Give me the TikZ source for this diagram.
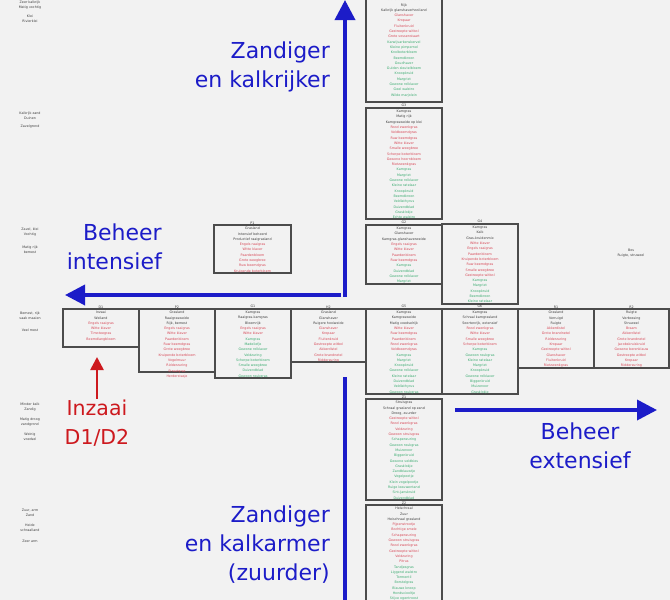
\documentclass[tikz,border=0pt]{standalone}
\usepackage{fontspec}
\setmainfont{DejaVu Sans}
\usetikzlibrary{arrows.meta}
\definecolor{bgc}{RGB}{242,242,242}
\definecolor{bluec}{RGB}{28,28,200}
\definecolor{redc}{RGB}{205,25,30}
\definecolor{tred}{RGB}{215,70,85}
\definecolor{tgrn}{RGB}{55,170,110}
\definecolor{tblk}{RGB}{60,60,60}
\newcommand{\cBlk}[1]{\textcolor{tblk}{#1}}
\newcommand{\cRed}[1]{\textcolor{tred}{#1}}
\newcommand{\cGrn}[1]{\textcolor{tgrn}{#1}}
\tikzset{
  boxline/.style={draw=black!70, line width=1.3pt},
  tinyt/.style={font=\fontsize{3.3}{5.3}\selectfont, inner sep=0pt, text=tblk, align=center},
  bigarrow/.style={draw=bluec, line width=3.6pt, -{Triangle[length=20pt,width=20pt]}},
  bigline/.style={draw=bluec, line width=3.6pt},
  redarrow/.style={draw=redc, line width=2.6pt, -{Triangle[length=13pt,width=13pt]}},
  bluelabel/.style={text=bluec, font=\fontsize{22}{29}\selectfont, inner sep=0pt},
  redlabel/.style={text=redc, font=\fontsize{20.5}{29}\selectfont, inner sep=0pt, align=center},
}
\newcommand{\vegbox}[7]{%
  \draw[boxline] (#2,#3) rectangle (#4,#5);
  \node[tinyt, anchor=south] (#1h) at ({(#2+#4)/2},{#3-0.8}) {#6};
  \node[tinyt, anchor=north] (#1) at ({(#2+#4)/2},{#3+2}) {#7};
}
\begin{document}
\begin{tikzpicture}[x=1pt,y=-1pt]
\useasboundingbox (0,0) rectangle (670,600);
\fill[bgc] (0,0) rectangle (670,600);
\clip (0,0) rectangle (670,600);

% ---- left column labels
\node[tinyt] (l1) at (30,5) {Zeer kalkrijk\\Matig vochtig};
\node[tinyt] (l2) at (30,19) {Klei\\Rivierklei};
\node[tinyt] (l3) at (30,116) {Kalkrijk zand\\Duinen};
\node[tinyt] (l4) at (30,127) {Zavelgrond};
\node[tinyt] (l5) at (30,232) {Zavel, klei\\Vochtig};
\node[tinyt] (l6) at (30,250) {Matig rijk\\bemest};
\node[tinyt] (l7) at (30,316) {Bemest, rijk\\vaak maaien};
\node[tinyt] (l8) at (30,330) {Veel mest};
\node[tinyt] (l9) at (30,407) {Minder kalk\\Zandig};
\node[tinyt] (l10) at (30,422) {Matig droog\\zandgrond};
\node[tinyt] (l11) at (30,437) {Weinig\\voedsel};
\node[tinyt] (l12) at (30,513) {Zuur, arm\\Zand};
\node[tinyt] (l13) at (30,528) {Heide\\schraalland};
\node[tinyt] (l14) at (30,541) {Zeer arm};

% ---- isolated right text
\node[tinyt] (rest) at (631,253) {Bos\\Ruigte, struweel};

% ---- boxes
\vegbox{A}{366}{-4}{442}{102}{H1}{\cBlk{Glanshaverhooiland}\\\cBlk{Rijk}\\\cBlk{Kalkrijk glanshaverhooiland}\\
\cRed{Glanshaver}\\\cRed{Kropaar}\\\cRed{Fluitenkruid}\\\cRed{Gestreepte witbol}\\\cRed{Grote vossenstaart}\\
\cGrn{Karwijvarkenskervel}\\\cGrn{Kleine pimpernel}\\\cGrn{Knolboterbloem}\\\cGrn{Beemdkroon}\\\cGrn{Goudhaver}\\\cGrn{Gulden sleutelbloem}\\\cGrn{Knoopkruid}\\\cGrn{Margriet}\\\cGrn{Gewone rolklaver}\\\cGrn{Geel walstro}\\\cGrn{Wilde marjolein}}

\vegbox{B}{366}{108}{442}{219}{G3}{\cBlk{Kamgras}\\\cBlk{Matig rijk}\\\cBlk{Kamgrasweide op klei}\\
\cRed{Rood zwenkgras}\\\cRed{Veldbeemdgras}\\\cRed{Ruw beemdgras}\\\cRed{Witte klaver}\\\cRed{Smalle weegbree}\\\cRed{Scherpe boterbloem}\\\cRed{Gewone hoornbloem}\\\cRed{Rietzwenkgras}\\
\cGrn{Kamgras}\\\cGrn{Margriet}\\\cGrn{Gewone rolklaver}\\\cGrn{Kleine ratelaar}\\\cGrn{Knoopkruid}\\\cGrn{Beemdkroon}\\\cGrn{Veldlathyrus}\\\cGrn{Duizendblad}\\\cGrn{Grasklokje}\\\cGrn{Echte walstro}}

\vegbox{C}{366}{225}{442}{284}{G2}{\cBlk{Kamgras}\\\cBlk{Glanshaver}\\\cBlk{Kamgras-glanshaverweide}\\
\cRed{Engels raaigras}\\\cRed{Witte klaver}\\\cRed{Paardenbloem}\\\cRed{Ruw beemdgras}\\
\cGrn{Kamgras}\\\cGrn{Duizendblad}\\\cGrn{Gewone rolklaver}\\\cGrn{Margriet}}

\vegbox{D}{442}{224}{518}{304}{G4}{\cBlk{Kamgras}\\\cBlk{Kalk}\\\cBlk{Gras-kruidenmix}\\
\cRed{Witte klaver}\\\cRed{Engels raaigras}\\\cRed{Paardenbloem}\\\cRed{Kruipende boterbloem}\\\cRed{Ruw beemdgras}\\\cRed{Smalle weegbree}\\\cRed{Gestreepte witbol}\\
\cGrn{Kamgras}\\\cGrn{Margriet}\\\cGrn{Knoopkruid}\\\cGrn{Beemdkroon}\\\cGrn{Kleine ratelaar}}

\vegbox{E}{214}{225}{291}{273}{P1}{\cBlk{Grasland}\\\cBlk{Intensief beheerd}\\\cBlk{Productief raaigrasland}\\
\cRed{Engels raaigras}\\\cRed{Witte klaver}\\\cRed{Paardenbloem}\\\cRed{Grote weegbree}\\\cRed{Ruw beemdgras}\\\cRed{Kruipende boterbloem}}

\vegbox{F}{63}{309}{139}{347}{D1}{\cBlk{Inzaai}\\\cBlk{Weiland}\\
\cRed{Engels raaigras}\\\cRed{Witte klaver}\\\cRed{Timoteegras}\\\cRed{Beemdlangbloem}}

\vegbox{G}{139}{309}{215}{372}{P2}{\cBlk{Grasland}\\\cBlk{Raaigrasweide}\\\cBlk{Rijk, bemest}\\
\cRed{Engels raaigras}\\\cRed{Witte klaver}\\\cRed{Paardenbloem}\\\cRed{Ruw beemdgras}\\\cRed{Grote weegbree}\\\cRed{Kruipende boterbloem}\\\cRed{Vogelmuur}\\\cRed{Ridderzuring}\\\cRed{Straatgras}\\\cRed{Herderstasje}}

\vegbox{H}{215}{309}{291}{378}{G1}{\cBlk{Kamgras}\\\cBlk{Raaigras-kamgras}\\\cBlk{Bloemrijk}\\
\cRed{Engels raaigras}\\\cRed{Witte klaver}\\
\cGrn{Kamgras}\\\cGrn{Madeliefje}\\\cGrn{Gewone rolklaver}\\\cGrn{Veldzuring}\\\cGrn{Scherpe boterbloem}\\\cGrn{Smalle weegbree}\\\cGrn{Duizendblad}\\\cGrn{Gewoon reukgras}}

\vegbox{I}{291}{309}{366}{362}{H2}{\cBlk{Grasland}\\\cBlk{Glanshaver}\\\cBlk{Ruigere hooiweide}\\
\cRed{Glanshaver}\\\cRed{Kropaar}\\\cRed{Fluitenkruid}\\\cRed{Gestreepte witbol}\\\cRed{Akkerdistel}\\\cRed{Grote brandnetel}\\\cRed{Ridderzuring}}

\vegbox{J}{366}{309}{442}{394}{G5}{\cBlk{Kamgras}\\\cBlk{Kamgrasweide}\\\cBlk{Matig voedselrijk}\\
\cRed{Witte klaver}\\\cRed{Ruw beemdgras}\\\cRed{Paardenbloem}\\\cRed{Rood zwenkgras}\\\cRed{Veldbeemdgras}\\
\cGrn{Kamgras}\\\cGrn{Margriet}\\\cGrn{Knoopkruid}\\\cGrn{Gewone rolklaver}\\\cGrn{Kleine ratelaar}\\\cGrn{Duizendblad}\\\cGrn{Veldlathyrus}\\\cGrn{Gewoon reukgras}}

\vegbox{K}{442}{309}{518}{394}{G6}{\cBlk{Kamgras}\\\cBlk{Schraal kamgrasland}\\\cBlk{Soortenrijk, extensief}\\
\cRed{Rood zwenkgras}\\\cRed{Witte klaver}\\\cRed{Smalle weegbree}\\\cRed{Scherpe boterbloem}\\
\cGrn{Kamgras}\\\cGrn{Gewoon reukgras}\\\cGrn{Kleine ratelaar}\\\cGrn{Margriet}\\\cGrn{Knoopkruid}\\\cGrn{Gewone rolklaver}\\\cGrn{Biggenkruid}\\\cGrn{Muizenoor}\\\cGrn{Grasklokje}}

\vegbox{L}{518}{309}{594}{368}{R1}{\cBlk{Grasland}\\\cBlk{Verruigd}\\\cBlk{Ruigte}\\
\cRed{Akkerdistel}\\\cRed{Grote brandnetel}\\\cRed{Ridderzuring}\\\cRed{Kropaar}\\\cRed{Gestreepte witbol}\\\cRed{Glanshaver}\\\cRed{Fluitenkruid}\\\cRed{Rietzwenkgras}}

\vegbox{M}{594}{309}{669}{368}{R2}{\cBlk{Ruigte}\\\cBlk{Verbossing}\\\cBlk{Struweel}\\
\cRed{Braam}\\\cRed{Akkerdistel}\\\cRed{Grote brandnetel}\\\cRed{Jacobskruiskruid}\\\cRed{Gewone berenklauw}\\\cRed{Gestreepte witbol}\\\cRed{Kropaar}\\\cRed{Ridderzuring}}

\vegbox{N}{366}{399}{442}{500}{Z1}{\cBlk{Struisgras}\\\cBlk{Schraal grasland op zand}\\\cBlk{Droog, zuurder}\\
\cRed{Gestreepte witbol}\\\cRed{Rood zwenkgras}\\\cRed{Veldzuring}\\\cRed{Gewoon struisgras}\\
\cGrn{Schapenzuring}\\\cGrn{Gewoon reukgras}\\\cGrn{Muizenoor}\\\cGrn{Biggenkruid}\\\cGrn{Gewone veldbies}\\\cGrn{Grasklokje}\\\cGrn{Zandblauwtje}\\\cGrn{Vogelpootje}\\\cGrn{Klein vogelpootje}\\\cGrn{Ruige leeuwentand}\\\cGrn{Sint-Janskruid}\\\cGrn{Duizendblad}}

\vegbox{O}{366}{505}{442}{606}{Z2}{\cBlk{Heischraal}\\\cBlk{Zuur}\\\cBlk{Heischraal grasland}\\
\cRed{Pijpenstrootje}\\\cRed{Bochtige smele}\\\cRed{Schapenzuring}\\\cRed{Gewoon struisgras}\\\cRed{Rood zwenkgras}\\\cRed{Gestreepte witbol}\\\cRed{Veldzuring}\\\cRed{Pitrus}\\
\cGrn{Tandjesgras}\\\cGrn{Liggend walstro}\\\cGrn{Tormentil}\\\cGrn{Borstelgras}\\\cGrn{Blauwe knoop}\\\cGrn{Hondsviooltje}\\\cGrn{Stijve ogentroost}\\\cGrn{Heidekartelblad}}

% ---- big arrows
\coordinate (upS) at (345,297);
\coordinate (upE) at (345,0);
\coordinate (leftS) at (341,295);
\coordinate (leftE) at (65,295);
\coordinate (downS) at (345,377);
\coordinate (downE) at (345,602);
\coordinate (rightS) at (455,410);
\coordinate (rightE) at (657,410);
\draw[bigarrow] (upS) -- (upE);
\draw[bigarrow] (leftS) -- (leftE);
\draw[bigline] (downS) -- (downE);
\draw[bigarrow] (rightS) -- (rightE);

% ---- labels
\node[bluelabel, anchor=east, align=right] (kalkrijk) at (330,67) {Zandiger\\en kalkrijker};
\node[bluelabel, anchor=east, align=right] (intensief) at (162,247) {Beheer\\intensief};
\node[bluelabel, align=center] (extensief) at (580,446) {Beheer\\extensief};
\node[bluelabel, anchor=east, align=right] (kalkarm) at (330,545) {Zandiger\\en kalkarmer\\(zuurder)};
\node[redlabel] (inzaai) at (97,423) {Inzaai\\D1/D2};
\coordinate (redE) at (97,357);
\draw[redarrow] (inzaai.north) ++(0,-1) -- (redE);
\end{tikzpicture}
\end{document}
